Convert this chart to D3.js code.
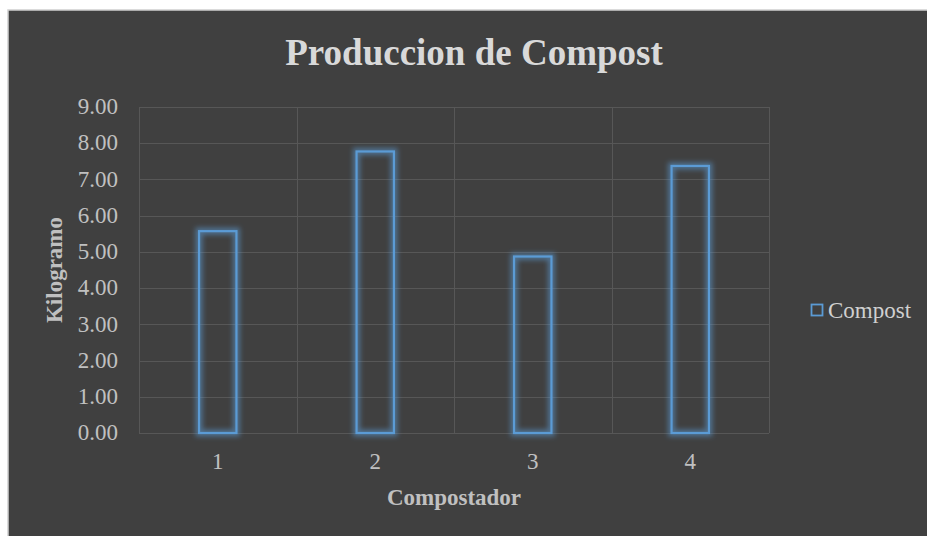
<!DOCTYPE html>
<html>
<head>
<meta charset="utf-8">
<script src="https://cdn.jsdelivr.net/npm/d3@7"></script>
<style>
  html, body { margin: 0; padding: 0; background: #ffffff; }
  svg { display: block; }
  text { font-family: "Liberation Serif", "Times New Roman", serif; }
</style>
</head>
<body>
<svg id="chart" width="927" height="536"></svg>
<script>
const categories = ["1", "2", "3", "4"];
const seriesName = "Compost";
const compost = [5.6, 7.8, 4.9, 7.4];
const yTicks = [0, 1, 2, 3, 4, 5, 6, 7, 8, 9];
const titleText = "Produccion de Compost";
const xTitle = "Compostador";
const yTitle = "Kilogramo";

const svg = d3.select("#chart");
const W = 927, H = 536;
const plot = { left: 139, right: 769, top: 107, bottom: 433 };
const barColor = "#5b9bd5";
const gridColor = "#575757";
const labelColor = "#c0c0c0";
const serif = "'Liberation Serif', 'Times New Roman', serif";

// glow filter
const defs = svg.append("defs");
const f = defs.append("filter").attr("id", "glow")
  .attr("x", "-50%").attr("y", "-20%").attr("width", "200%").attr("height", "140%");
f.append("feGaussianBlur").attr("in", "SourceGraphic").attr("stdDeviation", 2.8);

// background frame
svg.append("rect").attr("x", 0).attr("y", 0).attr("width", W).attr("height", H).attr("fill", "#ffffff");
svg.append("rect").attr("x", 8).attr("y", 10).attr("width", W).attr("height", H)
  .attr("fill", "#404040").attr("stroke", "#d0d0d0").attr("stroke-width", 1.5);

const x = d3.scaleBand().domain(categories).range([plot.left, plot.right]).paddingInner(0).paddingOuter(0);
const y = d3.scaleLinear().domain([0, 9]).range([plot.bottom, plot.top]);

// horizontal gridlines
svg.append("g").selectAll("line").data(yTicks).join("line")
  .attr("x1", plot.left).attr("x2", plot.right)
  .attr("y1", d => Math.round(y(d)) + 0.5).attr("y2", d => Math.round(y(d)) + 0.5)
  .attr("stroke", gridColor).attr("stroke-width", 1);

// vertical gridlines at band boundaries
const bounds = categories.map(c => x(c)).concat([x(categories[categories.length - 1]) + x.bandwidth()]);
svg.append("g").selectAll("line").data(bounds).join("line")
  .attr("x1", d => Math.round(d) + 0.5).attr("x2", d => Math.round(d) + 0.5)
  .attr("y1", plot.top).attr("y2", plot.bottom)
  .attr("stroke", gridColor).attr("stroke-width", 1);

// y axis
const yAxis = svg.append("g").attr("transform", `translate(${plot.left},0)`)
  .call(d3.axisLeft(y).tickValues(yTicks).tickFormat(d3.format(".2f")).tickSize(0).tickPadding(21))
  .attr("font-family", serif);
yAxis.select(".domain").remove();
yAxis.selectAll("text").attr("fill", labelColor).style("font-size", "23px")
  .style("font-family", serif).attr("dy", "0.29em");

// x axis
const xAxis = svg.append("g").attr("transform", `translate(0,${plot.bottom})`)
  .call(d3.axisBottom(x).tickSize(0).tickPadding(20))
  .attr("font-family", serif);
xAxis.select(".domain").remove();
xAxis.selectAll("text").attr("fill", labelColor).style("font-size", "23px")
  .style("font-family", serif);

// bars
const bw = x.bandwidth() / 4;
const barX = (d, i) => x(categories[i]) + (x.bandwidth() - bw) / 2 + 1;
svg.append("g").attr("filter", "url(#glow)").selectAll("rect").data(compost).join("rect")
  .attr("x", barX)
  .attr("y", d => y(d) + 1)
  .attr("width", bw - 2)
  .attr("height", d => y(0) - y(d) - 1)
  .attr("fill", "none")
  .attr("stroke", barColor)
  .attr("stroke-opacity", 0.55)
  .attr("stroke-width", 7);
svg.append("g").selectAll("rect").data(compost).join("rect")
  .attr("x", barX)
  .attr("y", d => y(d) + 1)
  .attr("width", bw - 2)
  .attr("height", d => y(0) - y(d) - 1)
  .attr("fill", "none")
  .attr("stroke", barColor)
  .attr("stroke-width", 2.2);

// title
svg.append("text").attr("x", 474).attr("y", 65).attr("text-anchor", "middle")
  .attr("fill", "#d9d9d9").style("font-size", "37px").style("font-weight", "bold").text(titleText);

// axis titles
svg.append("text").attr("x", (plot.left + plot.right) / 2).attr("y", 505).attr("text-anchor", "middle")
  .attr("fill", labelColor).style("font-size", "23px").style("font-weight", "bold").text(xTitle);
svg.append("text").attr("transform", `translate(62,${(plot.top + plot.bottom) / 2}) rotate(-90)`)
  .attr("text-anchor", "middle")
  .attr("fill", labelColor).style("font-size", "23px").style("font-weight", "bold").text(yTitle);

// legend
const lg = svg.append("g").attr("transform", "translate(811,304)");
lg.append("rect").attr("x", 0.5).attr("y", 0.5).attr("width", 11).attr("height", 11)
  .attr("fill", "none").attr("stroke", barColor).attr("stroke-width", 1.8);
lg.append("text").attr("x", 17).attr("y", 14).attr("fill", "#d0d0d0")
  .style("font-size", "23px").style("font-family", serif).text(seriesName);
</script>
</body>
</html>
